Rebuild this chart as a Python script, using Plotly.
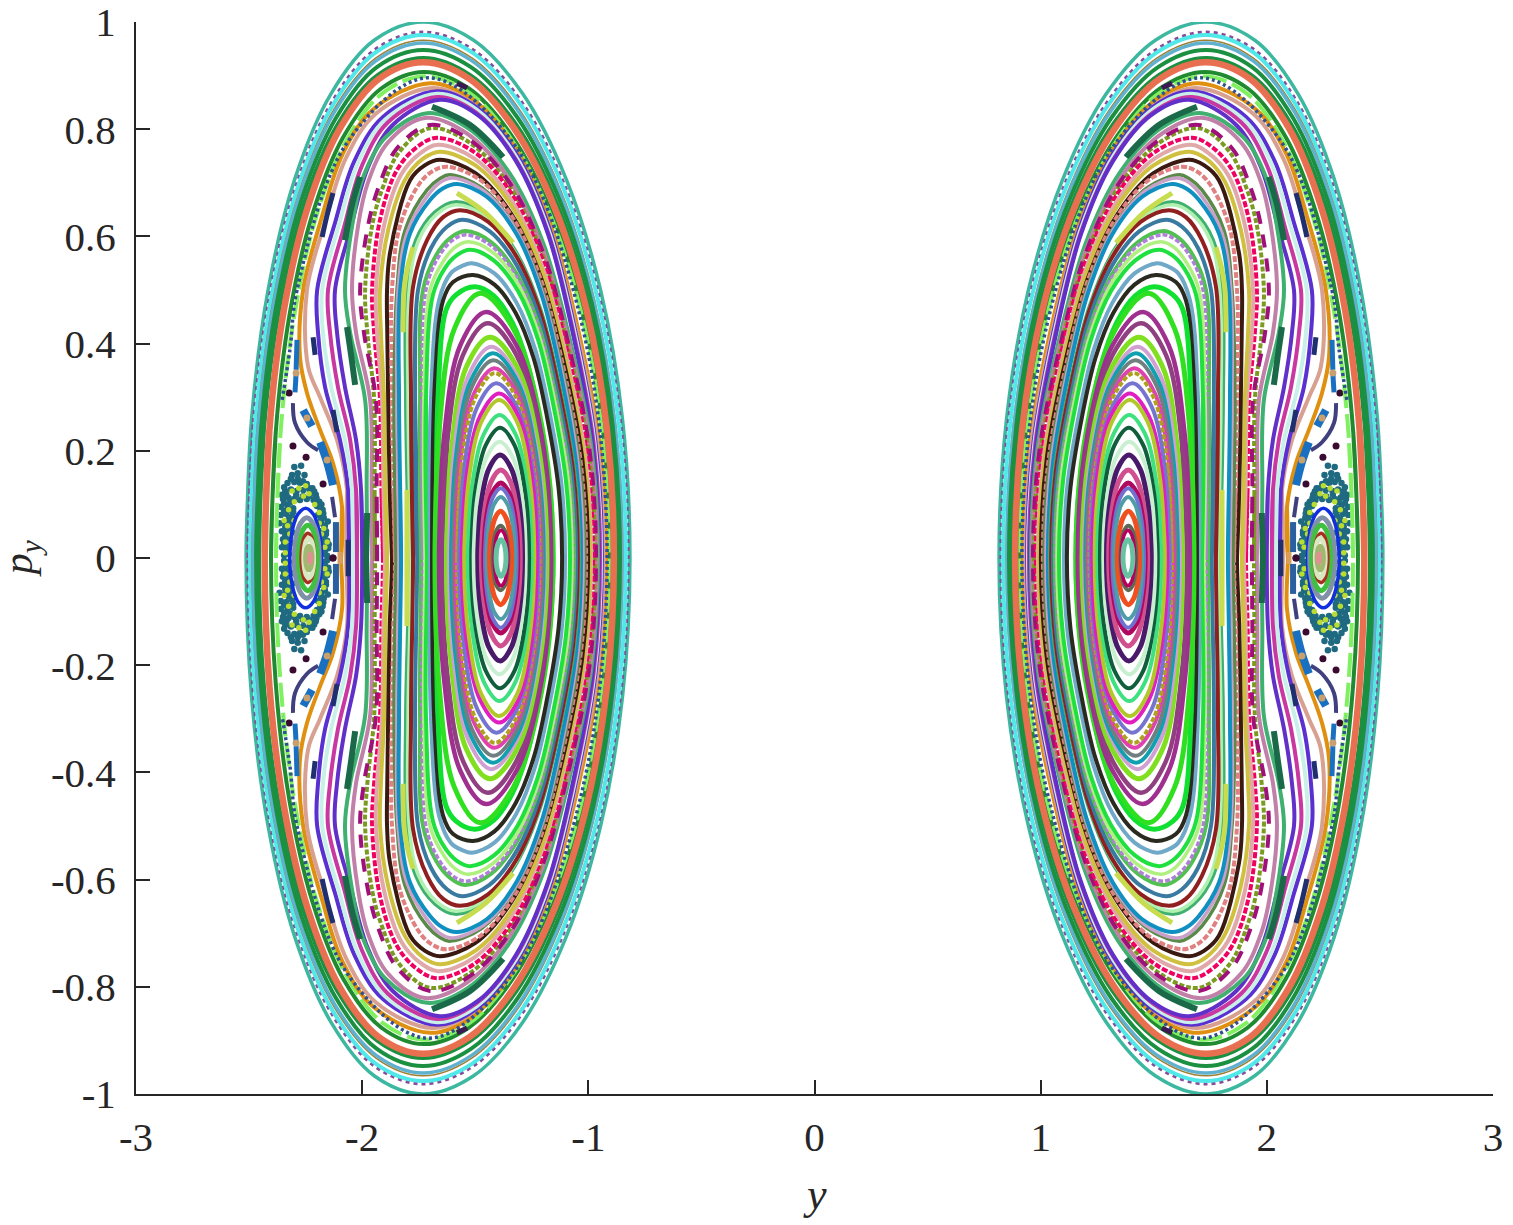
import plotly.graph_objects as go

x_ticks = [-3, -2, -1, 0, 1, 2, 3]
x_labels = ["-3", "-2", "-1", "0", "1", "2", "3"]
y_ticks = [-1, -0.8, -0.6, -0.4, -0.2, 0, 0.2, 0.4, 0.6, 0.8, 1]
y_labels = ["-1", "-0.8", "-0.6", "-0.4", "-0.2", "0", "0.2", "0.4", "0.6", "0.8", "1"]


def sym(half):
    return half + half[-2::-1]


# upper half of each orbit, left crossing to right crossing; the rest follows by the section's symmetry
orbit_y = [
 [-2.513,-2.489,-2.416,-2.298,-2.138,-1.947,-1.731,-1.507,-1.290,-1.098,-.946,-.849,-.816],
 [-2.504,-2.480,-2.408,-2.292,-2.134,-1.944,-1.731,-1.510,-1.294,-1.104,-.954,-.858,-.825],
 [-2.496,-2.472,-2.401,-2.286,-2.130,-1.942,-1.731,-1.512,-1.298,-1.110,-.961,-.866,-.834],
 [-2.487,-2.463,-2.393,-2.279,-2.125,-1.939,-1.731,-1.515,-1.305,-1.119,-.973,-.879,-.847],
 [-2.482,-2.459,-2.389,-2.276,-2.123,-1.938,-1.731,-1.516,-1.307,-1.122,-.977,-.883,-.851],
 [-2.469,-2.446,-2.378,-2.267,-2.116,-1.935,-1.731,-1.519,-1.312,-1.129,-.984,-.892,-.860],
 [-2.456,-2.434,-2.366,-2.258,-2.110,-1.932,-1.731,-1.522,-1.318,-1.138,-.996,-.904,-.873],
 [-2.403,-2.382,-2.321,-2.220,-2.084,-1.916,-1.727,-1.528,-1.334,-1.160,-1.023,-.934,-.904],
 [-2.381,-2.361,-2.301,-2.204,-2.071,-1.908,-1.722,-1.526,-1.335,-1.164,-1.027,-.939,-.909],
 [-2.431,-2.410,-2.346,-2.241,-2.099,-1.926,-1.731,-1.526,-1.327,-1.149,-1.008,-.918,-.887],
 [-2.093,-2.089,-2.129,-2.186,-2.244,-2.275,-2.261,-2.177,-2.087,-1.952,-1.700,-1.513,-1.327,-1.171,-1.054,-.953,-.922],
 [-2.071,-2.067,-2.111,-2.186,-2.239,-2.244,-2.161,-2.073,-1.940,-1.691,-1.509,-1.326,-1.174,-1.060,-.961,-.931],
 [-2.058,-2.062,-2.098,-2.164,-2.195,-2.199,-2.119,-2.035,-1.908,-1.669,-1.494,-1.319,-1.173,-1.064,-.969,-.940],
 [-2.040,-2.045,-2.076,-2.137,-2.173,-2.177,-2.101,-2.020,-1.898,-1.669,-1.495,-1.321,-1.176,-1.067,-.973,-.944],
 [-2.023,-2.027,-2.053,-2.107,-2.142,-2.151,-2.079,-2.002,-1.886,-1.669,-1.496,-1.323,-1.179,-1.071,-.977,-.948],
 [-2.000,-2.005,-2.027,-2.076,-2.111,-2.120,-2.050,-1.976,-1.865,-1.656,-1.487,-1.319,-1.178,-1.073,-.981,-.953],
 [-1.978,-1.980,-1.987,-2.053,-2.076,-2.040,-2.000,-1.899,-1.713,-1.532,-1.350,-1.199,-1.086,-.987,-.957],
 [-1.956,-1.958,-1.965,-2.027,-2.045,-2.018,-1.975,-1.885,-1.722,-1.540,-1.357,-1.205,-1.091,-.992,-.962],
 [-1.943,-1.945,-1.947,-1.977,-1.987,-1.956,-1.910,-1.835,-1.700,-1.525,-1.350,-1.204,-1.094,-.999,-.970],
 [-1.934,-1.936,-1.939,-1.992,-2.009,-1.974,-1.925,-1.845,-1.700,-1.524,-1.348,-1.201,-1.091,-.995,-.966],
 [-1.908,-1.915,-1.921,-1.947,-1.956,-1.921,-1.846,-1.757,-1.669,-1.503,-1.338,-1.200,-1.096,-1.007,-.979],
 [-1.899,-1.906,-1.912,-1.934,-1.939,-1.903,-1.828,-1.744,-1.665,-1.503,-1.340,-1.205,-1.103,-1.015,-.988],
 [-1.890,-1.897,-1.903,-1.917,-1.921,-1.885,-1.810,-1.731,-1.656,-1.497,-1.338,-1.205,-1.106,-1.020,-.993],
 [-1.868,-1.878,-1.885,-1.889,-1.890,-1.877,-1.788,-1.722,-1.656,-1.499,-1.342,-1.211,-1.112,-1.027,-1.001],
 [-1.855,-1.862,-1.868,-1.868,-1.832,-1.744,-1.687,-1.625,-1.477,-1.330,-1.207,-1.115,-1.035,-1.010],
 [-1.850,-1.855,-1.859,-1.846,-1.810,-1.713,-1.656,-1.615,-1.471,-1.327,-1.207,-1.117,-1.039,-1.015],
 [-1.837,-1.841,-1.846,-1.841,-1.802,-1.709,-1.651,-1.600,-1.462,-1.323,-1.208,-1.121,-1.046,-1.023],
 [-1.828,-1.832,-1.837,-1.832,-1.788,-1.700,-1.642,-1.581,-1.449,-1.317,-1.208,-1.125,-1.054,-1.032],
 [-1.792,-1.806,-1.802,-1.762,-1.678,-1.589,-1.457,-1.326,-1.216,-1.134,-1.063,-1.041],
 [-1.784,-1.797,-1.792,-1.753,-1.669,-1.585,-1.456,-1.326,-1.218,-1.138,-1.068,-1.046],
 [-1.775,-1.784,-1.775,-1.713,-1.642,-1.567,-1.442,-1.317,-1.213,-1.135,-1.067,-1.046],
 [-1.757,-1.766,-1.753,-1.696,-1.625,-1.558,-1.437,-1.316,-1.215,-1.140,-1.074,-1.054],
 [-1.740,-1.744,-1.731,-1.673,-1.611,-1.545,-1.429,-1.314,-1.217,-1.145,-1.082,-1.063],
 [-1.731,-1.735,-1.718,-1.665,-1.603,-1.541,-1.427,-1.314,-1.219,-1.148,-1.086,-1.068],
 [-1.722,-1.727,-1.700,-1.651,-1.594,-1.532,-1.422,-1.311,-1.219,-1.150,-1.090,-1.072],
 [-1.713,-1.718,-1.687,-1.634,-1.581,-1.523,-1.417,-1.311,-1.222,-1.156,-1.099,-1.081],
 [-1.700,-1.696,-1.660,-1.607,-1.558,-1.514,-1.415,-1.317,-1.235,-1.173,-1.119,-1.103],
 [-1.691,-1.678,-1.642,-1.598,-1.510,-1.415,-1.321,-1.242,-1.183,-1.132,-1.116],
 [-1.669,-1.665,-1.629,-1.585,-1.501,-1.418,-1.335,-1.266,-1.215,-1.170,-1.156],
 [-1.678,-1.658,-1.592,-1.477,-1.332,-1.206,-1.156],
 [-1.660,-1.637,-1.566,-1.452,-1.318,-1.207,-1.164],
 [-1.646,-1.623,-1.554,-1.445,-1.318,-1.215,-1.174],
 [-1.627,-1.604,-1.539,-1.435,-1.316,-1.220,-1.183],
 [-1.616,-1.594,-1.529,-1.429,-1.317,-1.226,-1.192],
 [-1.607,-1.585,-1.520,-1.422,-1.315,-1.230,-1.197],
 [-1.597,-1.576,-1.514,-1.420,-1.316,-1.234,-1.203],
 [-1.588,-1.567,-1.505,-1.415,-1.317,-1.241,-1.212],
 [-1.580,-1.560,-1.500,-1.413,-1.318,-1.244,-1.216],
 [-1.571,-1.550,-1.491,-1.406,-1.316,-1.246,-1.221],
 [-1.560,-1.538,-1.477,-1.394,-1.311,-1.250,-1.228],
 [-1.549,-1.528,-1.472,-1.394,-1.316,-1.260,-1.239],
 [-1.533,-1.514,-1.462,-1.392,-1.322,-1.270,-1.251],
 [-1.518,-1.501,-1.454,-1.390,-1.326,-1.279,-1.262],
 [-1.507,-1.492,-1.450,-1.392,-1.334,-1.292,-1.277],
 [-1.489,-1.476,-1.440,-1.390,-1.340,-1.304,-1.291],
 [-1.473,-1.461,-1.430,-1.387,-1.344,-1.313,-1.301],
 [-1.462,-1.452,-1.425,-1.387,-1.350,-1.322,-1.312],
 [-1.457,-1.448,-1.422,-1.387,-1.352,-1.326,-1.317],
 [-1.449,-1.441,-1.418,-1.387,-1.356,-1.333,-1.325],
 [-1.437,-1.430,-1.412,-1.388,-1.364,-1.346,-1.339],
 [-1.423,-1.418,-1.406,-1.388,-1.370,-1.358,-1.353],
 [-1.416,-1.412,-1.401,-1.386,-1.371,-1.360,-1.356],
 [-1.408,-1.405,-1.397,-1.386,-1.375,-1.367,-1.364],
 [-2.320,-2.311,-2.285,-2.250,-2.215,-2.189,-2.180],
 [-2.300,-2.293,-2.272,-2.245,-2.218,-2.197,-2.190],
 [-2.282,-2.276,-2.261,-2.240,-2.219,-2.204,-2.198],
 [-2.270,-2.266,-2.255,-2.240,-2.225,-2.214,-2.210],
 [-2.258,-2.255,-2.247,-2.236,-2.225,-2.217,-2.214],
 [-2.250,-2.248,-2.243,-2.236,-2.229,-2.224,-2.222],
 [-2.236,-2.235,-2.233,-2.230,-2.227,-2.225,-2.224],
]
orbit_p = [
 sym([0,.259,.500,.707,.866,.966,1.0]),
 sym([0,.254,.490,.694,.850,.948,.981]),
 sym([0,.253,.488,.690,.845,.943,.976]),
 sym([0,.250,.483,.683,.837,.933,.966]),
 sym([0,.249,.480,.679,.832,.928,.961]),
 sym([0,.246,.474,.670,.821,.916,.948]),
 sym([0,.242,.467,.660,.808,.901,.933]),
 sym([0,.235,.454,.641,.785,.876,.907]),
 sym([0,.233,.450,.636,.778,.868,.899]),
 sym([0,.240,.463,.654,.801,.894,.925]),
 [0,.095,.177,.239,.308,.375,.5,.638,.753,.837,.886,.856,.767,.626,.443,.22,0],
 [0,.127,.220,.300,.357,.5,.631,.745,.829,.877,.847,.759,.620,.439,.219,0],
 [0,.127,.220,.319,.420,.5,.627,.740,.823,.871,.841,.754,.616,.436,.218,0],
 [0,.127,.220,.319,.420,.5,.624,.736,.818,.866,.837,.750,.612,.433,.217,0],
 [0,.127,.220,.319,.420,.5,.619,.731,.813,.860,.831,.745,.608,.430,.215,0],
 [0,.127,.220,.319,.420,.5,.616,.727,.808,.855,.826,.740,.604,.428,.214,0],
 [0,.127,.295,.420,.5,.631,.706,.784,.830,.802,.719,.587,.415,.208,0],
 [0,.127,.295,.420,.5,.620,.700,.776,.821,.793,.711,.580,.410,.205,0],
 [0,.127,.295,.420,.5,.620,.690,.758,.802,.775,.695,.567,.401,.200,0],
 [0,.127,.295,.420,.5,.620,.695,.765,.808,.780,.700,.571,.404,.202,0],
 [0,.127,.295,.420,.5,.631,.724,.767,.784,.757,.679,.554,.392,.196,0],
 [0,.127,.295,.420,.5,.621,.715,.755,.771,.745,.668,.545,.386,.193,0],
 [0,.127,.295,.420,.5,.612,.706,.745,.758,.732,.656,.536,.379,.190,0],
 [0,.127,.295,.420,.5,.569,.705,.733,.743,.718,.643,.525,.372,.186,0],
 [0,.127,.295,.5,.621,.700,.722,.730,.705,.632,.516,.365,.183,0],
 [0,.127,.295,.5,.612,.687,.708,.715,.691,.619,.506,.358,.179,0],
 [0,.127,.295,.5,.606,.677,.702,.709,.685,.614,.501,.355,.177,0],
 [0,.127,.295,.5,.606,.668,.690,.698,.674,.604,.493,.349,.175,0],
 [0,.295,.5,.593,.645,.664,.641,.575,.469,.332,.166,0],
 [0,.295,.5,.590,.642,.659,.637,.571,.466,.330,.165,0],
 [0,.295,.506,.593,.636,.649,.627,.562,.459,.325,.162,0],
 [0,.295,.5,.578,.618,.631,.610,.546,.446,.316,.158,0],
 [0,.295,.5,.565,.597,.610,.589,.528,.431,.305,.153,0],
 [0,.295,.5,.560,.592,.603,.582,.522,.426,.302,.151,0],
 [0,.295,.5,.547,.578,.590,.570,.511,.417,.295,.148,0],
 [0,.295,.491,.541,.565,.575,.555,.498,.407,.288,.144,0],
 [0,.295,.481,.532,.545,.550,.531,.476,.389,.275,.138,0],
 [0,.332,.481,.515,.528,.510,.457,.373,.264,.132,0],
 [0,.295,.463,.491,.506,.489,.438,.358,.253,.127,0],
 sym([0,.247,.428,.494]),
 sym([0,.230,.397,.459]),
 sym([0,.219,.379,.438]),
 sym([0,.206,.357,.412]),
 sym([0,.197,.341,.394]),
 sym([0,.191,.331,.382]),
 sym([0,.185,.320,.369]),
 sym([0,.177,.307,.354]),
 sym([0,.173,.299,.345]),
 sym([0,.163,.282,.326]),
 sym([0,.154,.266,.307]),
 sym([0,.148,.255,.295]),
 sym([0,.134,.231,.267]),
 sym([0,.122,.210,.243]),
 sym([0,.109,.188,.217]),
 sym([0,.096,.166,.192]),
 sym([0,.082,.142,.164]),
 sym([0,.070,.121,.140]),
 sym([0,.065,.113,.130]),
 sym([0,.057,.099,.114]),
 sym([0,.044,.075,.087]),
 sym([0,.030,.052,.060]),
 sym([0,.026,.045,.052]),
 sym([0,.017,.029,.034]),
 sym([0,.047,.081,.093]),
 sym([0,.038,.065,.075]),
 sym([0,.030,.053,.061]),
 sym([0,.023,.040,.046]),
 sym([0,.018,.032,.037]),
 sym([0,.011,.019,.022]),
 sym([0,.004,.008,.009]),
]
orbit_color = [
 "#3cb8a0","#8a4a9a","#50e8e8","#a08030","#60b0d0","#1a9040","#1a9040","#208a30","#80f060","#e87050",
 "#e09010","#d8a090","#5a30d0","#c8f0e8","#c838a0","#6030c8","#40b070","#c080a8","#7a9a20","#a0107a",
 "#f00060","#e0a8a8","#d0c040","#3a1a10","#e08080","#5a8a4a","#c8a0c8","#1090c0","#40b070","#b0f0b0",
 "#902020","#3a7aa0","#50c050","#b080d8","#b0f080","#20e040","#70a8c8","#2a2a20","#10e030","#30e020",
 "#a03090","#904080","#80e020","#d0a0d0","#10a0b0","#708080","#e040b0","#b0a020","#7575d0","#e01fc0",
 "#b0c828","#3fe080","#115e3c","#c8f0d0","#4a1a6a","#d04f8f","#b0085f","#7070d0","#4f9da6","#f0501f",
 "#5f6a55","#b5005f","#66c2a0",
 "#1030e0","#8090a8","#40c040","#a83020","#d8e8c0","#a0b870","#e09090",
]
orbit_width = [
 3.5,3.5,4,1.5,3.5,4,4,4,4,6.5,
 4,4,4,4,4,4,4,4,4,4,
 4,4,4,4,4,3.5,3.5,4,4,3.5,
 4,4,4,3.5,3.5,4,4,4,5,5,
 4.5,4.5,5,4,4,4,4,4,4,4,
 4,4,4,4,5,5,5,4,4,5,
 4,3.5,5,
 3.5,5,5,3.5,5,5,3.5,
]
orbit_dash = ["solid"] * len(orbit_color)
orbit_dash[1] = "4px,4px"
orbit_dash[8] = "24px,6px"
orbit_dash[18] = "5px,2px"
orbit_dash[19] = "13px,11px"
orbit_dash[20] = "6px,2px"
orbit_dash[24] = "6px,2px"
orbit_dash[33] = "5px,2px"
orbit_dash[47] = "5px,2px"

# the open dotted band outside the central chaotic zone
band_y = [-2.354,-2.319,-2.288,-2.065,-1.709,-1.335,-1.035,-.917]
band_p = [.295,.39,.5,.776,.896,.776,.448,0]

# pieces of island chains
seg_y = [
 [-1.691,-1.523,-1.377],[-2.009,-2.045,-2.076],[-2.067,-2.049,-2.031],[-1.978,-1.983],
 [-2.217,-2.208],[-2.129,-2.111],[-2.062,-2.062],[-2.129,-2.155,-2.177],[-1.581,-1.536],
 [-1.581,-1.457,-1.333],[-1.775,-1.802,-1.815,-1.819],[-1.802,-1.802],
 [-2.288,-2.292],[-2.292,-2.297],[-2.261,-2.222],[-2.186,-2.155,-2.129],[-2.116,-2.116],[-2.098,-2.098],
 [-2.306,-2.297,-2.244,-2.195],[-2.133,-2.120],
]
seg_p = [
 [.842,.808,.748],[.711,.659,.593],[.431,.379,.323],[.084,0],
 [.412,.379],[.276,.235],[.034,0],[.681,.640,.599],[.886,.877],
 [.681,.645,.588],[.580,.537,.5,.421],[.127,0],
 [.407,.351],[.345,.309],[.276,.246],[.216,.179,.136],[.067,.011],[.011,0],
 [.289,.252,.216,.201],[.114,.076],
]
seg_color = [
 "#1a6a4a","#1a6a4a","#1a6a4a","#1a6a4a",
 "#1f2f6f","#1f2f6f","#1f2f6f","#1f2f6f","#3a1a50",
 "#c8dc50","#c8dc50","#c8dc50",
 "#1a70c0","#1a70c0","#1a70c0","#1a70c0","#2a5fa0","#d8a060",
 "#40407f","#40407f",
]
seg_width = [6,6,6,6,5,5,5,5,5,5,5,5,5,5,8,8,6,5,4,4]

# scattered section points of the chaotic zone
chaos_y = [-2.300,-2.270,-2.310,-2.285,-2.255,-2.330,-2.300,-2.275,-2.245,-2.220,
 -2.340,-2.315,-2.290,-2.260,-2.230,-2.205,-2.350,-2.325,-2.300,-2.275,-2.245,-2.215,-2.190,
 -2.360,-2.330,-2.305,-2.200,-2.175,-2.360,-2.335,-2.310,-2.195,-2.170,
 -2.365,-2.340,-2.315,-2.180,-2.165,-2.355,-2.330,-2.310,-2.185,-2.160,
 -2.350,-2.325,-2.180,-2.155,-2.355,-2.330,-2.175,-2.150,-2.345,-2.325,-2.180,-2.155,
 -2.285,-2.315,-2.262,-2.345,-2.235,-2.212,-2.355,-2.335,-2.292,-2.262,-2.232,-2.202,-2.180,
 -2.345,-2.318,-2.185,-2.345,-2.322,-2.182,-2.152,-2.325,-2.305,-2.172,-2.168,-2.340,-2.315,-2.160,
 -2.340,-2.318,-2.165,-2.345,-2.312,-2.170,-2.148,-2.335,-2.165]
chaos_p = [.170,.172,.155,.158,.155,.140,.142,.140,.138,.130,
 .125,.128,.125,.127,.122,.118,.110,.112,.110,.108,.110,.108,.105,
 .095,.097,.093,.097,.090,.080,.082,.078,.080,.075,
 .065,.067,.062,.065,.060,.050,.052,.048,.050,.045,
 .035,.037,.035,.032,.020,.022,.020,.018,.005,.007,.006,.004,
 .148,.148,.143,.132,.130,.124,.118,.118,.118,.115,.116,.112,.100,
 .102,.104,.088,.088,.090,.072,.068,.072,.086,.083,.056,.058,.055,.050,
 .043,.044,.042,.028,.028,.026,.025,.012,.013]
lime_y = [-2.300,-2.260,-2.235,-2.210,-2.190,-2.325,-2.345,-2.300,-2.320,-2.340,-2.180,-2.165,-2.280,-2.310,-2.250,
 -2.340,-2.330,-2.190,-2.170,-2.155]
lime_p = [.105,.115,.120,.100,.085,.090,.070,.070,.045,.030,.045,.020,.130,.125,.135,
 .010,.060,.065,.055,.030]

# isolated dark and tan points of the outer chains
dark_y = [-2.323,-2.306,-2.248,-2.173,-2.129]
dark_p = [.308,.209,.188,.138,0]
tan_y = [-2.244,-2.155,-2.292]
tan_p = [.261,.183,.345]

INK = "#262626"
FONT = "Liberation Serif"


def loop(ys, ps):
    upper = list(zip(ys, ps))
    lower = [(a, -b) for a, b in upper[-2:0:-1]]
    whole = upper + lower
    whole = whole + whole[:2]
    return [a for a, _ in whole], [b for _, b in whole]


fig = go.Figure()


def line(xs, ys, color, width, dash="solid"):
    fig.add_trace(go.Scatter(x=xs, y=ys, mode="lines", cliponaxis=False, hoverinfo="skip",
                             line=dict(color=color, width=width, dash=dash, shape="spline")))


def points(xs, ys, color, size):
    all_x, all_y = [], []
    for sx in (1, -1):
        for sy in (1, -1):
            all_x += [sx * v for v in xs]
            all_y += [sy * v for v in ys]
    fig.add_trace(go.Scatter(x=all_x, y=all_y, mode="markers", cliponaxis=False, hoverinfo="skip",
                             marker=dict(color=color, size=size, line=dict(width=0))))


points(chaos_y, chaos_p, "#1f6a80", 6.5)
points(lime_y, lime_p, "#b8dc30", 5.5)
points(dark_y, dark_p, "#3a0a30", 7)

for i in range(len(orbit_y)):
    xs, ys = loop(orbit_y[i], orbit_p[i])
    for s in (1, -1):
        line([s * v for v in xs], ys, orbit_color[i], orbit_width[i], orbit_dash[i])

band_x = band_y + band_y[-2::-1]
band_v = band_p + [-v for v in band_p[-2::-1]]
for s in (1, -1):
    line([s * v for v in band_x], band_v, "#2f4f8f", 3.5, "3px,3px")

for i in range(len(seg_y)):
    for sx in (1, -1):
        for sy in (1, -1):
            line([sx * v for v in seg_y[i]], [sy * v for v in seg_p[i]], seg_color[i], seg_width[i])

points(tan_y, tan_p, "#c8a070", 7)

axis_common = dict(showgrid=False, zeroline=False, showline=True, linecolor=INK, linewidth=2,
                   ticks="inside", ticklen=14, tickwidth=2, tickcolor=INK, automargin=False,
                   ticklabeloverflow="allow",
                   tickfont=dict(family=FONT, size=41, color=INK), mirror=False)
fig.update_layout(
    width=1513, height=1225, autosize=False, showlegend=False, hovermode=False,
    paper_bgcolor="white", plot_bgcolor="white",
    margin=dict(l=136, r=20, t=22, b=131),
    xaxis=dict(range=[-3, 3], tickvals=x_ticks, ticktext=x_labels, ticklabelstandoff=6, **axis_common),
    yaxis=dict(range=[-1.0001, 1.0001], tickvals=y_ticks, ticktext=y_labels, ticklabelstandoff=10, **axis_common),
    annotations=[
        dict(text="<i>y</i>", xref="x", yref="paper", x=0, y=-0.094, showarrow=False,
             xanchor="center", yanchor="middle", font=dict(family=FONT, size=44, color=INK)),
        dict(text="<i>p<sub>y</sub></i>", xref="paper", yref="y", x=-0.0845, y=0, showarrow=False,
             textangle=-90, xanchor="center", yanchor="middle", font=dict(family=FONT, size=42, color=INK)),
    ],
)
fig.write_html("out.html", config={"displayModeBar": False},
               post_script="document.body.style.margin='0';")
